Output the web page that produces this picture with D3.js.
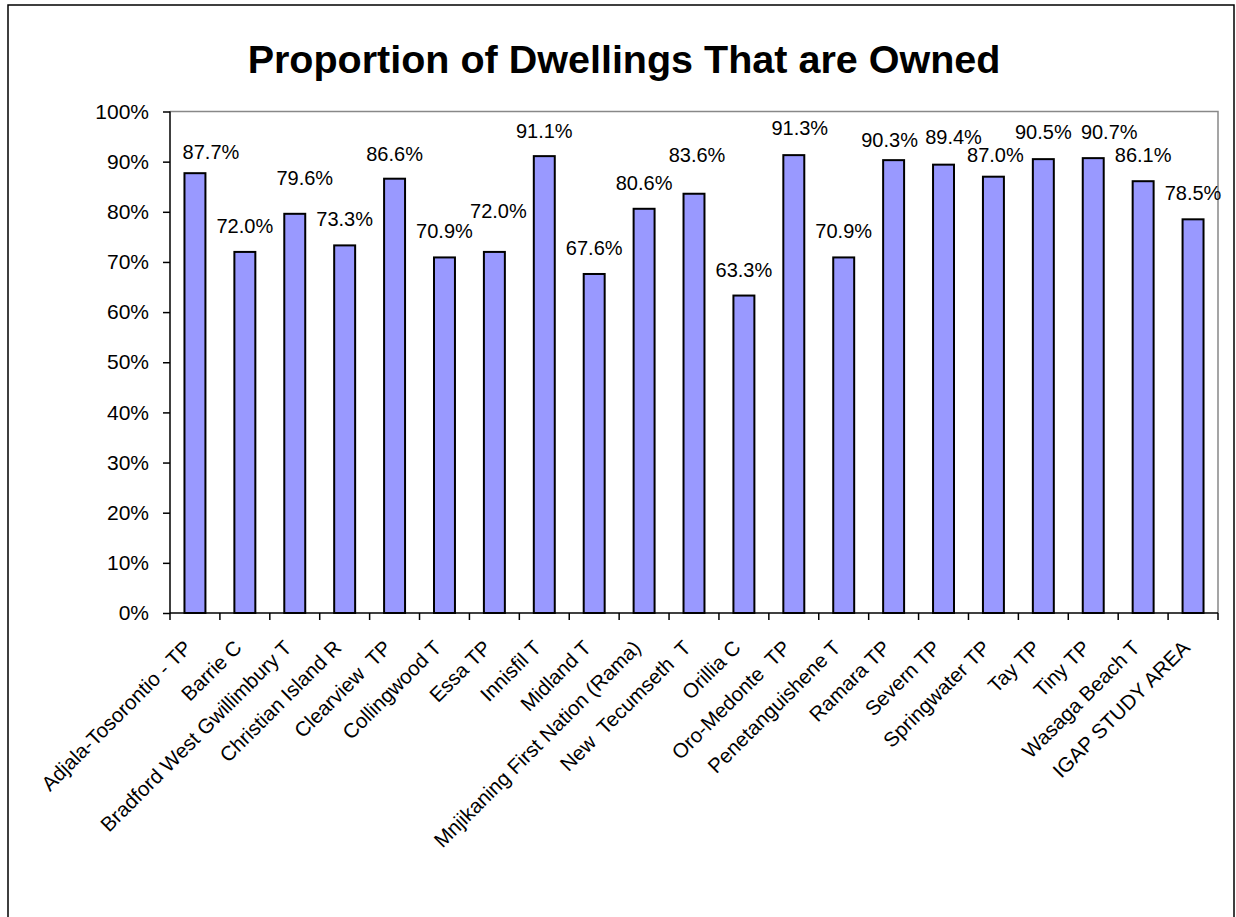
<!DOCTYPE html>
<html>
<head>
<meta charset="utf-8">
<script src="https://cdn.jsdelivr.net/npm/d3@7"></script>
<style>
  body { margin: 0; background: #fff; }
  text { font-family: "Liberation Sans", Arial, sans-serif; fill: #000; }
</style>
</head>
<body>
<svg id="chart"></svg>
<script>
// chart data
let areas = ["Adjala-Tosorontio - TP", "Barrie C", "Bradford West Gwillimbury T", "Christian Island R",
	"Clearview  TP", "Collingwood T", "Essa TP", "Innisfil T", "Midland T", "Mnjikaning First Nation (Rama)",
	"New  Tecumseth  T", "Orillia C", "Oro-Medonte  TP", "Penetanguishene T", "Ramara TP", "Severn TP",
	"Springwater TP", "Tay TP", "Tiny TP", "Wasaga Beach T", "IGAP STUDY AREA"];
let owned = [0.877, 0.720, 0.796, 0.733, 0.866, 0.709, 0.720, 0.911, 0.676, 0.806, 0.836,
	0.633, 0.913, 0.709, 0.903, 0.894, 0.870, 0.905, 0.907, 0.861, 0.785];
let yTicks = [0, 0.1, 0.2, 0.3, 0.4, 0.5, 0.6, 0.7, 0.8, 0.9, 1.0];
// little nudges of the value labels, like the original layout (dx, dy)
let labelNudge = [[16,5],[0,0],[10,-10],[0,0],[0,1],[0,0],[4,-15],[0,1],[0,0],[0,0],[3,-13],
	[0,0],[6,-1],[0,0],[-4,6],[10,-2],[2,4],[0,-1],[16,0],[0,0],[0,0]];

let width = 1236, height = 917;
let plot = {left: 170, right: 1218, top: 111.5, bottom: 613};

let svg = d3.select("#chart").attr("width", width).attr("height", height);

// outer chart border (bottom runs off the page)
svg.append("rect")
	.attr("x", 8).attr("y", 5)
	.attr("width", 1226).attr("height", 940)
	.style("fill", "none").style("stroke", "#000").style("stroke-width", 1.5);

svg.append("text")
	.attr("x", 624).attr("y", 73)
	.attr("text-anchor", "middle")
	.style("font-size", "39.5px").style("font-weight", "bold")
	.text("Proportion of Dwellings That are Owned");

let x = d3.scaleBand().domain(areas).range([plot.left, plot.right]);
let y = d3.scaleLinear().domain([0, 1]).range([plot.bottom, plot.top]);

// plot frame top + right in grey
svg.append("path")
	.attr("d", `M${plot.left},${plot.top}H${plot.right}V${plot.bottom}`)
	.style("fill", "none").style("stroke", "#888").style("stroke-width", 1.5);

let barW = x.bandwidth() * 0.42;

svg.append("g").selectAll("rect")
	.data(owned)
	.enter().append("rect")
	.attr("x", (d, i) => x(areas[i]) + (x.bandwidth() - barW) / 2)
	.attr("y", d => y(d))
	.attr("width", barW)
	.attr("height", d => y(0) - y(d))
	.style("fill", "#9999ff")
	.style("stroke", "#000")
	.style("stroke-width", 2);

// value labels
svg.append("g").selectAll("text")
	.data(owned)
	.enter().append("text")
	.attr("x", (d, i) => x(areas[i]) + x.bandwidth() / 2 + labelNudge[i][0])
	.attr("y", (d, i) => y(d) - 26 + labelNudge[i][1])
	.attr("dy", "0.35em")
	.attr("text-anchor", "middle")
	.style("font-size", "20px")
	.text(d => d3.format(".1%")(d));

// y axis
let yAxis = svg.append("g")
	.attr("transform", `translate(${plot.left},0)`)
	.call(d3.axisLeft(y).tickValues(yTicks).tickFormat(d3.format(".0%")).tickSize(7).tickPadding(14));
yAxis.selectAll("text").style("font-size", "21px").style("font-family", "Liberation Sans, Arial, sans-serif");
yAxis.selectAll("line, path").style("stroke", "#000").style("stroke-width", 1.5);
yAxis.select(".domain").attr("d", `M0,${plot.top}V${plot.bottom}`);

// x axis line + ticks at band edges
let edges = areas.map(a => x(a)).concat([plot.right]);
svg.append("line")
	.attr("x1", plot.left).attr("x2", plot.right)
	.attr("y1", plot.bottom).attr("y2", plot.bottom)
	.style("stroke", "#000").style("stroke-width", 1.5);
svg.append("g").selectAll("line")
	.data(edges)
	.enter().append("line")
	.attr("x1", d => d).attr("x2", d => d)
	.attr("y1", plot.bottom).attr("y2", plot.bottom + 7)
	.style("stroke", "#000").style("stroke-width", 1.5);

// rotated category labels
svg.append("g").selectAll("text")
	.data(areas)
	.enter().append("text")
	.attr("transform", d => `translate(${x(d) + x.bandwidth() / 2 - 7},${plot.bottom + 31}) rotate(-45)`)
	.attr("text-anchor", "end")
	.attr("dy", "0.35em")
	.style("font-size", "20.5px")
	.style("white-space", "pre")
	.text(d => d);
</script>
</body>
</html>
